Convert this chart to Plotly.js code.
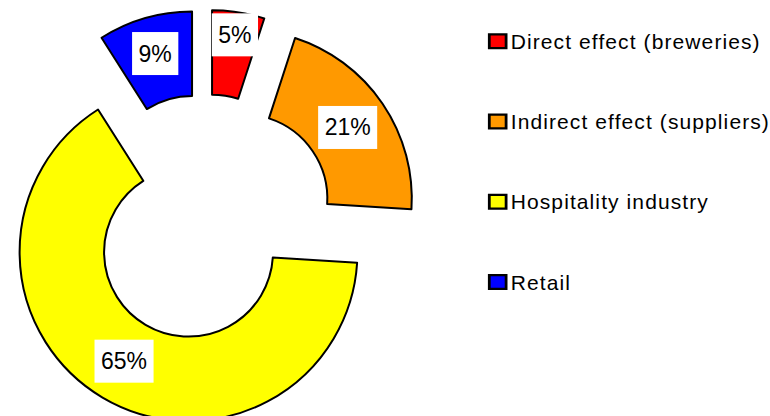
<!DOCTYPE html>
<html><head><meta charset="utf-8">
<script src="https://cdn.plot.ly/plotly-3.0.1.min.js"></script>
<style>
html,body{margin:0;padding:0;overflow:hidden;background:#fff;width:770px;height:416px}
#chart{position:absolute;left:-20px;top:-20px;width:820px;height:500px}
</style>
</head><body><div id="chart"></div>
<script>
const categories = ['Direct effect (breweries)', 'Indirect effect (suppliers)', 'Hospitality industry', 'Retail'];
const shares = [5, 21, 65, 9];
const colors = ['#FF0000', '#FF9900', '#FFFF00', '#0000FF'];
const pulls = [0.272, 0.272, 0.19, 0.272];

const FONT = 'Liberation Sans, Arial, sans-serif';

const trace = {
  type: 'pie',
  values: shares,
  labels: categories.map(c => '<br><span style="font-size:21px;letter-spacing:1.1px">' + c + '</span><br>\u00a0'),
  sort: false,
  direction: 'clockwise',
  rotation: 0,
  hole: 0.5,
  pull: pulls,
  marker: {colors: colors, line: {color: '#000', width: 2}},
  textinfo: 'percent',
  textposition: 'inside',
  insidetextorientation: 'horizontal',
  textfont: {family: FONT, size: 23, color: '#000'},
  hoverinfo: 'none',
  domain: {x: [0, 0.53054], y: [0, 1]}
};

const layout = {
  width: 820, height: 500,
  margin: {l: 9.5, r: 0, t: 12.3, b: 23.3, pad: 0},
  paper_bgcolor: '#fff',
  font: {family: FONT, color: '#000'},
  showlegend: true,
  legend: {x: 0.59346, xanchor: 'left', y: 0.991, yanchor: 'top', maxheight: 1000,
           font: {family: FONT, size: 19.8, color: '#000'}, bgcolor: 'rgba(0,0,0,0)'}
};

const gd = document.getElementById('chart');
Plotly.newPlot(gd, [trace], layout, {staticPlot: true}).then(() => {
  const NS = 'http://www.w3.org/2000/svg';
  gd.querySelectorAll('text.slicetext').forEach(t => {
    const bb = t.getBBox();
    const r = document.createElementNS(NS, 'rect');
    const padX = 6.5, padY = 8.5;
    r.setAttribute('x', bb.x - padX);
    r.setAttribute('y', bb.y - padY);
    r.setAttribute('width', bb.width + 2 * padX);
    r.setAttribute('height', bb.height + 2 * padY);
    r.setAttribute('fill', '#fff');
    const tr = t.getAttribute('transform');
    if (tr) r.setAttribute('transform', tr);
    t.parentNode.insertBefore(r, t);
  });
  gd.querySelectorAll('path.legendpie').forEach(p => {
    p.setAttribute('transform', 'translate(27,0) scale(1.4,1.15)');
  });
});
</script>
</body></html>
